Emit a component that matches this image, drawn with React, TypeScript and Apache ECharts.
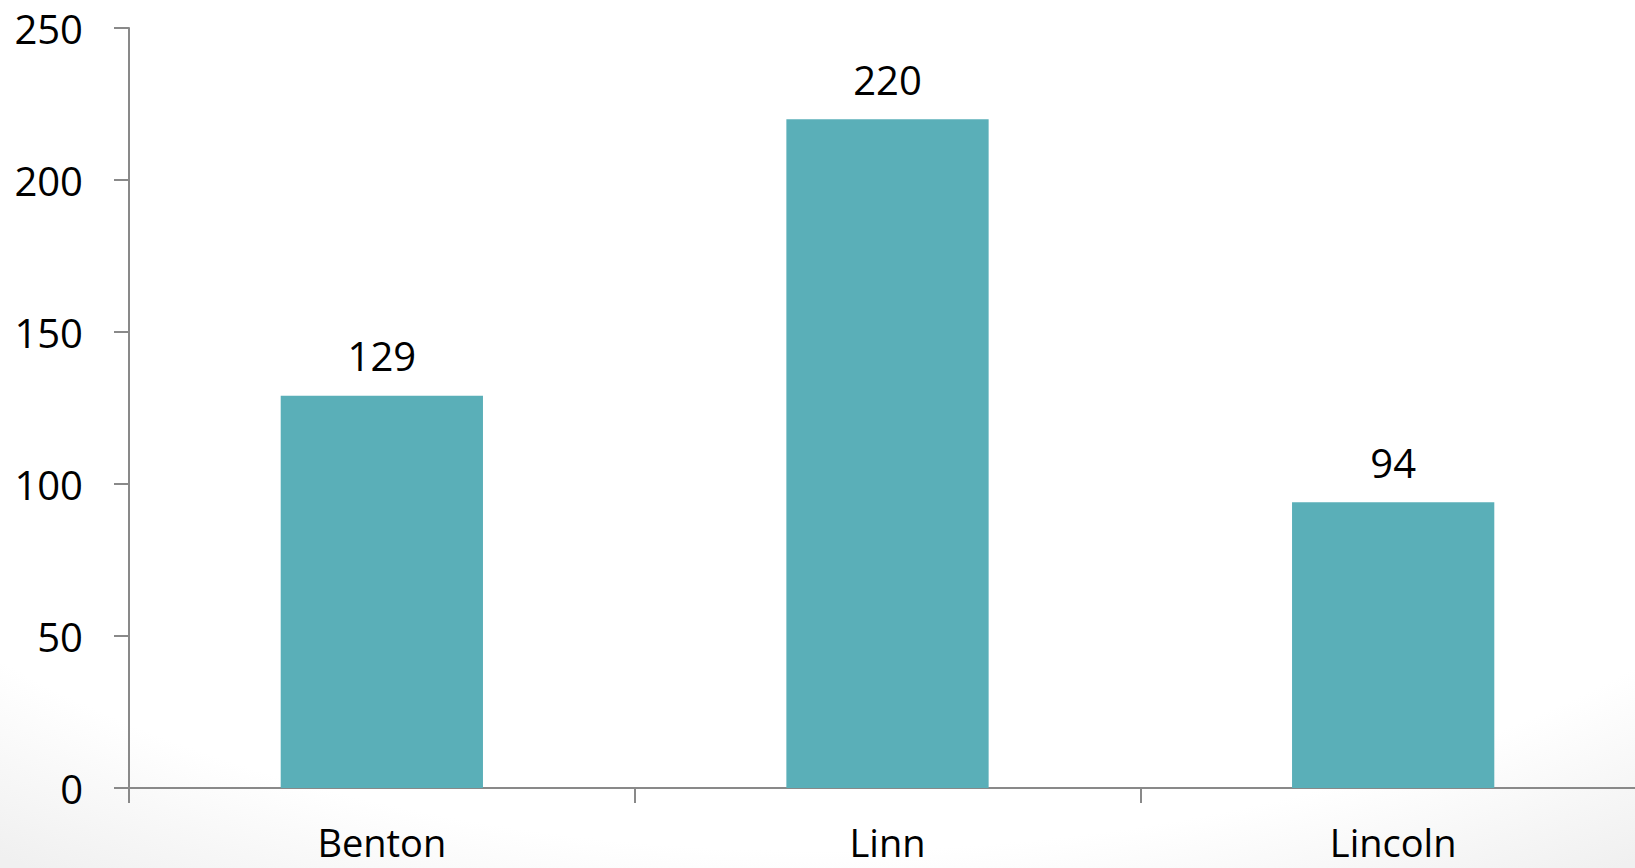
import React, { useEffect, useRef } from "react";
import * as echarts from "echarts";

const categories = ["Benton", "Linn", "Lincoln"];
const values = [129, 220, 94];
const yTicks = [0, 50, 100, 150, 200, 250];

export default function App() {
  const ref = useRef<HTMLDivElement>(null);
  useEffect(() => {
    if (!ref.current) return;
    const chart = echarts.init(ref.current, null, { renderer: "svg" });
    const font = "'Open Sans', sans-serif";
    chart.setOption({
      animation: false,
      backgroundColor: {
        type: "radial",
        x: 0.5,
        y: 0.3,
        r: 0.85,
        colorStops: [
          { offset: 0, color: "#ffffff" },
          { offset: 0.8, color: "#ffffff" },
          { offset: 1, color: "#f0f0f0" },
        ],
      },
      grid: { left: 129, top: 28, bottom: 80, right: 0, containLabel: false },
      xAxis: {
        type: "category",
        data: categories,
        axisLine: { lineStyle: { color: "#898989", width: 2 } },
        axisTick: { show: true, length: 15, lineStyle: { color: "#898989", width: 2 } },
        axisLabel: {
          color: "#000",
          fontSize: 38,
          lineHeight: 30,
          fontFamily: font,
          margin: 39,
        },
      },
      yAxis: {
        type: "value",
        min: yTicks[0],
        max: yTicks[yTicks.length - 1],
        interval: 50,
        splitLine: { show: false },
        axisLine: { show: true, lineStyle: { color: "#898989", width: 2 } },
        axisTick: { show: true, length: 15, lineStyle: { color: "#898989", width: 2 } },
        axisLabel: { color: "#000", fontSize: 40, fontFamily: font, margin: 46 },
      },
      series: [
        {
          type: "bar",
          data: values,
          barWidth: "40%",
          itemStyle: { color: "#5AAFB8" },
          label: {
            show: true,
            position: "top",
            distance: 20,
            color: "#000",
            fontSize: 40,
            fontFamily: font,
          },
        },
      ],
    });
    return () => chart.dispose();
  }, []);
  return (
    <div
      style={{
        position: "absolute",
        left: 0,
        top: 0,
        width: 1635,
        height: 868,
        overflow: "hidden",
      }}
    >
      <div ref={ref} style={{ width: 1646, height: 868 }} />
    </div>
  );
}
